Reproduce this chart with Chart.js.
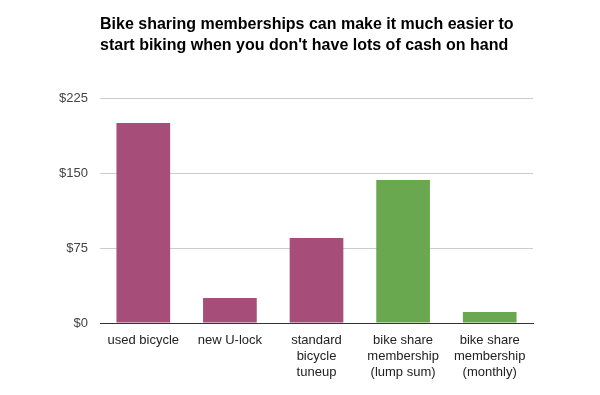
<!DOCTYPE html>
<html>
<head>
<meta charset="utf-8">
<script src="https://cdn.jsdelivr.net/npm/chart.js@4"></script>
<style>
  html, body { margin: 0; padding: 0; background: #fff; }
  #wrap { width: 600px; height: 395px; position: relative; }
</style>
</head>
<body>
<div id="wrap"><canvas id="chart"></canvas></div>
<script>
const titleLines = [
  "Bike sharing memberships can make it much easier to",
  "start biking when you don't have lots of cash on hand"
]
const categories = [
  ["used bicycle"],
  ["new U-lock"],
  ["standard", "bicycle", "tuneup"],
  ["bike share", "membership", "(lump sum)"],
  ["bike share", "membership", "(monthly)"]
]
const costs = [200, 25, 85, 143, 11]
const barColors = ["#a64d79", "#a64d79", "#a64d79", "#6aa84f", "#6aa84f"]
const yTicks = [0, 75, 150, 225]

const fontFamily = 'Arial, "Liberation Sans", sans-serif'

// Title drawn left-aligned with the plot area, like the original
const titlePlugin = {
  id: 'leftTitle',
  afterDraw(chart) {
    const ctx = chart.ctx
    ctx.save()
    ctx.font = 'bold 16px ' + fontFamily
    ctx.fillStyle = '#000'
    ctx.textBaseline = 'alphabetic'
    titleLines.forEach((line, i) => {
      ctx.fillText(line, chart.chartArea.left, 29 + i * 21)
    })
    ctx.restore()
  }
}

const config = {
  type: 'bar',
  data: {
    labels: categories,
    datasets: [{
      data: costs,
      backgroundColor: barColors,
      borderWidth: 0,
      categoryPercentage: 1,
      barPercentage: 0.62
    }]
  },
  options: {
    responsive: true,
    maintainAspectRatio: false,
    animation: false,
    layout: {
      padding: { top: 98, left: 0, right: 67, bottom: 0 }
    },
    plugins: {
      legend: { display: false },
      title: { display: false },
      tooltip: { enabled: false }
    },
    scales: {
      x: {
        grid: { display: false, drawTicks: false },
        border: { color: '#333333', width: 1 },
        ticks: {
          color: '#222222',
          padding: 10,
          maxRotation: 0,
          autoSkip: false,
          font: { family: fontFamily, size: 13, lineHeight: 1.2 }
        },
        afterFit: (scale) => { scale.height = 72 }
      },
      y: {
        min: 0,
        max: 225,
        afterBuildTicks: (scale) => {
          scale.ticks = yTicks.map(v => ({ value: v }))
        },
        grid: {
          color: (c) => c.tick && c.tick.value === 0 ? 'rgba(0,0,0,0)' : '#cccccc',
          drawTicks: false
        },
        border: { display: false },
        ticks: {
          color: '#444444',
          padding: 12,
          font: { family: fontFamily, size: 13 },
          callback: (value) => '$' + value
        },
        afterFit: (scale) => { scale.width = 100 }
      }
    }
  },
  plugins: [titlePlugin]
}

new Chart(document.getElementById('chart'), config)
</script>
</body>
</html>
